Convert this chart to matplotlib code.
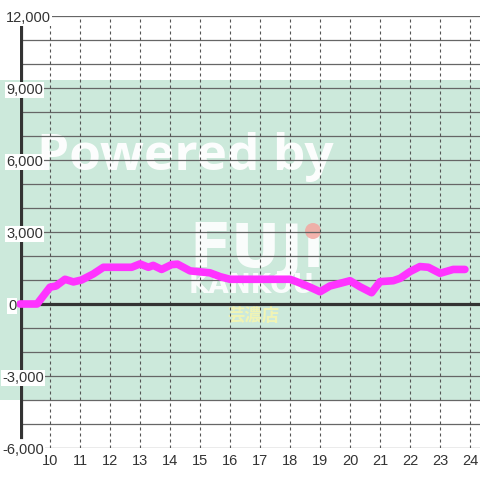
import matplotlib
matplotlib.use("Agg")
import matplotlib.pyplot as plt
from matplotlib.patches import Rectangle, Circle
from matplotlib.transforms import blended_transform_factory

hours = [9.0, 9.57, 10.0, 10.2, 10.5, 10.78, 11.05, 11.44, 11.78, 12.72, 13.0,
         13.28, 13.44, 13.72, 14.05, 14.25, 14.67, 15.33, 15.67, 16.0, 18.0,
         18.22, 18.67, 19.0, 19.33, 19.67, 20.0, 20.33, 20.72, 21.0, 21.44,
         21.67, 22.0, 22.33, 22.61, 23.0, 23.44, 23.83]
values = [0, 0, 700, 750, 1030, 920, 1000, 1250, 1530, 1530, 1670,
          1530, 1610, 1440, 1640, 1660, 1380, 1300, 1140, 1030, 1030,
          930, 700, 510, 750, 860, 970, 720, 470, 930, 970,
          1070, 1350, 1560, 1530, 1280, 1440, 1440]

xticks = list(range(10, 25))
yticks = [12000, 9000, 6000, 3000, 0, -3000, -6000]
ylabels = ["12,000", "9,000", "6,000", "3,000", "0", "-3,000", "-6,000"]

W = H = 480
fig = plt.figure(figsize=(4.8, 4.8), dpi=100)
fig.patch.set_facecolor("white")

# green band behind the chart
fig.patches.append(Rectangle((0, 80 / H), 1, 320 / H, transform=fig.transFigure,
                             facecolor="#cce9db", edgecolor="none", zorder=-5))

ax = fig.add_axes([20 / W, 32 / H, 460 / W, 432 / H])
ax.set_facecolor("none")
ax.set_xlim(9.0, 24.333)
ax.set_ylim(-6000, 12000)
for s in ax.spines.values():
    s.set_visible(False)
ax.set_yticks([])
ax.set_xticks(xticks)
ax.set_xticklabels([str(t) for t in xticks])
ax.tick_params(axis="x", length=0, pad=4, labelsize=10.5, labelcolor="#333333")
for lab in ax.get_xticklabels():
    lab.set_family("Liberation Sans")

# watermark
ff = fig.transFigure
ax.text(37 / W, 1 - 170 / H, "Powered by", transform=ff, fontsize=37,
        family="Open Sans", weight="bold", color="white", alpha=0.95,
        ha="left", va="baseline", zorder=0.5, clip_on=False)
ax.text(189 / W, 1 - 267 / H, "FUJı", transform=ff, fontsize=44,
        family="DejaVu Sans", weight="bold", color="white", alpha=0.9,
        ha="left", va="baseline", zorder=0.5, clip_on=False)
ax.text(189 / W, 1 - 293 / H, "KANKOU", transform=ff, fontsize=19,
        family="DejaVu Sans", weight="bold", color="white", alpha=0.9,
        ha="left", va="baseline", zorder=0.5, clip_on=False)
ax.add_patch(Circle((313 / W, 1 - 231 / H), 8 / W, transform=ff,
                    facecolor="#f4a6a0", edgecolor="none", alpha=0.85,
                    zorder=0.6, clip_on=False))
ax.text(253 / W, 1 - 316 / H, "芸濃店", transform=ff, fontsize=12.5,
        family=["Noto Sans CJK JP", "DejaVu Sans"], weight="bold",
        color="#f6f6b0", alpha=0.9, ha="center", va="center",
        zorder=0.5, clip_on=False)

# grid
for v in range(-6000, 12001, 1000):
    ax.axhline(v, color="#666666", lw=0.9, zorder=1)
for t in xticks:
    ax.axvline(t, color="#555555", lw=0.8, ls=(0, (2.7, 2.7)), zorder=1)

ax.axhline(0, color="#333333", lw=2.3, zorder=2)
ax.axvline(9.033, ymin=0.025, ymax=0.981, color="#333333", lw=2.3, zorder=2)

ax.plot(hours, values, color="#ff33ff", lw=5.5, solid_capstyle="round",
        solid_joinstyle="round", zorder=3, clip_on=False)

# y labels with white boxes
bt = blended_transform_factory(fig.transFigure, ax.transData)
for v, lab in zip(yticks, ylabels):
    x0 = 2 if lab.startswith("-") else (8 if lab == "0" else 6)
    ax.text(x0 / W, v - 80, lab, transform=bt, fontsize=10.5, family="Liberation Sans",
            color="#333333", ha="left", va="center", zorder=5, clip_on=False,
            bbox=dict(boxstyle="square,pad=0.08", facecolor="white", edgecolor="none"))

fig.savefig("out.png", dpi=100)
